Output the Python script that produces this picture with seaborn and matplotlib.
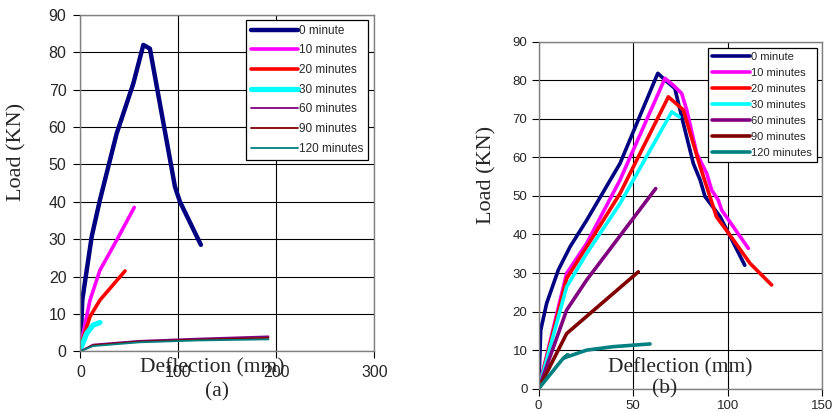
import matplotlib
matplotlib.use("Agg")
import matplotlib.pyplot as plt
import numpy as np
import pandas as pd
import seaborn as sns

sns.set_style("white")
plt.rcParams['font.family'] = ['Liberation Sans', 'DejaVu Sans']

labels = ["0 minute", "10 minutes", "20 minutes", "30 minutes",
          "60 minutes", "90 minutes", "120 minutes"]
colors = ["#000080", "#FF00FF", "#FF0000", "#00FFFF",
          "#800080", "#800000", "#008080"]

# panel (a) data: deflection (mm), load (kN)
a_x = [
    [0, 2, 11.6, 20, 37, 54, 64.3, 71, 96.6, 101.7, 123],
    [0, 9.9, 20, 37, 55],
    [0, 9.9, 20, 45.6],
    [0, 6.5, 13, 20],
    [0, 13, 60, 120, 192],
    [0, 13, 60, 120, 192],
    [0, 13, 60, 120, 192],
]
a_y = [
    [0, 13.7, 30.7, 40.5, 58.2, 71.6, 82, 81, 44, 40, 28.5],
    [1.2, 13.7, 21.7, 29.7, 38.5],
    [1.2, 9.3, 13.7, 21.5],
    [0.5, 4.8, 7, 7.7],
    [0, 1.8, 2.8, 3.4, 4.0],
    [0, 1.6, 2.6, 3.1, 3.6],
    [0, 1.4, 2.4, 2.9, 3.2],
]
a_lw = [3.2, 2.6, 2.6, 3.8, 1.3, 1.3, 1.3]

# panel (b) data
b_x = [
    [0, 1.1, 4.2, 10.4, 16.6, 25.4, 43, 63, 67, 72, 76.5, 81.8, 85.4, 88, 96, 109],
    [0, 14.8, 25.4, 43, 66.8, 71.2, 75.6, 78.3, 83.6, 88.9, 91.5, 95, 96.8, 110.9],
    [0, 14.8, 25.4, 43, 68.6, 76.5, 85.4, 90.6, 94, 101.2, 111.8, 123.2],
    [0, 14.8, 25.4, 43, 70.4, 74.4],
    [0, 14.8, 25.4, 61.9],
    [0, 14.8, 52.7],
    [0, 13, 15.5, 13.5, 25.4, 39.5, 58.9],
]
b_y = [
    [0, 15.2, 22.1, 30.8, 36.8, 43.7, 58.4, 81.8, 80, 77.9, 68.8, 58.4, 54.1, 49.8, 44.6, 32],
    [0, 29.9, 37.7, 54.1, 80.5, 78.7, 76.6, 72.3, 61, 55.8, 51.5, 48.9, 46.3, 36.4],
    [0, 28.6, 36.8, 50.6, 75.7, 72.3, 57.6, 49.8, 44.6, 39.8, 32.5, 26.9],
    [0, 26.4, 35.1, 48, 71.8, 70.5],
    [0, 20.4, 28.2, 51.9],
    [0, 14.3, 30.3],
    [0, 7.9, 8.8, 8.0, 10, 10.9, 11.6],
]
b_lw = [2.6] * 7

fig = plt.figure(figsize=(8.35, 4.12), dpi=100)
ax_a = fig.add_axes([0.0962, 0.1473, 0.3521, 0.8163])
ax_b = fig.add_axes([0.6451, 0.0566, 0.3397, 0.8422])


def draw(ax, xs, ys, lws):
    for lab, col, x, y, lw in zip(labels, colors, xs, ys, lws):
        df = pd.DataFrame({"Deflection": x, "Load": y})
        sns.lineplot(data=df, x="Deflection", y="Load", ax=ax, color=col,
                     linewidth=lw, sort=False, estimator=None, label=lab,
                     solid_joinstyle="round", solid_capstyle="round")


def style(ax, xmax, xstep, fs, pad):
    ax.set_xlim(0, xmax)
    ax.set_ylim(0, 90)
    ax.set_xticks(np.arange(0, xmax + 1, xstep))
    ax.set_yticks(np.arange(0, 91, 10))
    ax.grid(True, color="black", linewidth=0.8)
    ax.set_axisbelow(True)
    for s in ["top", "right", "left", "bottom"]:
        ax.spines[s].set_color("#808080")
        ax.spines[s].set_linewidth(1.0)
    ax.tick_params(axis="both", direction="out", length=5, width=0.8,
                   color="black", labelsize=fs, left=True, bottom=True, pad=pad)
    ax.set_xlabel("")
    ax.set_ylabel("")


draw(ax_a, a_x, a_y, a_lw)
draw(ax_b, b_x, b_y, b_lw)
style(ax_a, 300, 100, 11.5, 5)
style(ax_b, 150, 50, 9.5, 3)

for ax, anchor, loc, fs, hl, ls in [
        (ax_a, (0.98, 0.985), "upper right", 8.5, 4.0, 0.65),
        (ax_b, (0.597, 0.982), "upper left", 8, 3.4, 0.53)]:
    leg = ax.legend(loc=loc, bbox_to_anchor=anchor, fancybox=False,
                    frameon=True, edgecolor="black", fontsize=fs,
                    handlelength=hl, handletextpad=0.1, labelspacing=ls,
                    borderpad=0.4, borderaxespad=0)
    leg.get_frame().set_linewidth(0.9)
    leg.get_frame().set_alpha(1)

serif = ['Liberation Serif', 'DejaVu Serif']
fig.text(17 / 835, 1 - 152 / 412, "Load (KN)", rotation=90, ha="center",
         va="center", fontsize=16, family=serif)
fig.text(487 / 835, 1 - 175 / 412, "Load (KN)", rotation=90, ha="center",
         va="center", fontsize=16, family=serif)
fig.text(212 / 835, 1 - 368 / 412, "Deflection (mm)", ha="center",
         va="center", fontsize=15.5, family=serif)
fig.text(217 / 835, 1 - 392 / 412, "(a)", ha="center", va="center",
         fontsize=15.5, family=serif)
fig.text(680 / 835, 1 - 368 / 412, "Deflection (mm)", ha="center",
         va="center", fontsize=15.5, family=serif)
fig.text(665 / 835, 1 - 389 / 412, "(b)", ha="center", va="center",
         fontsize=15.5, family=serif)

fig.savefig("out.png", dpi=100)
